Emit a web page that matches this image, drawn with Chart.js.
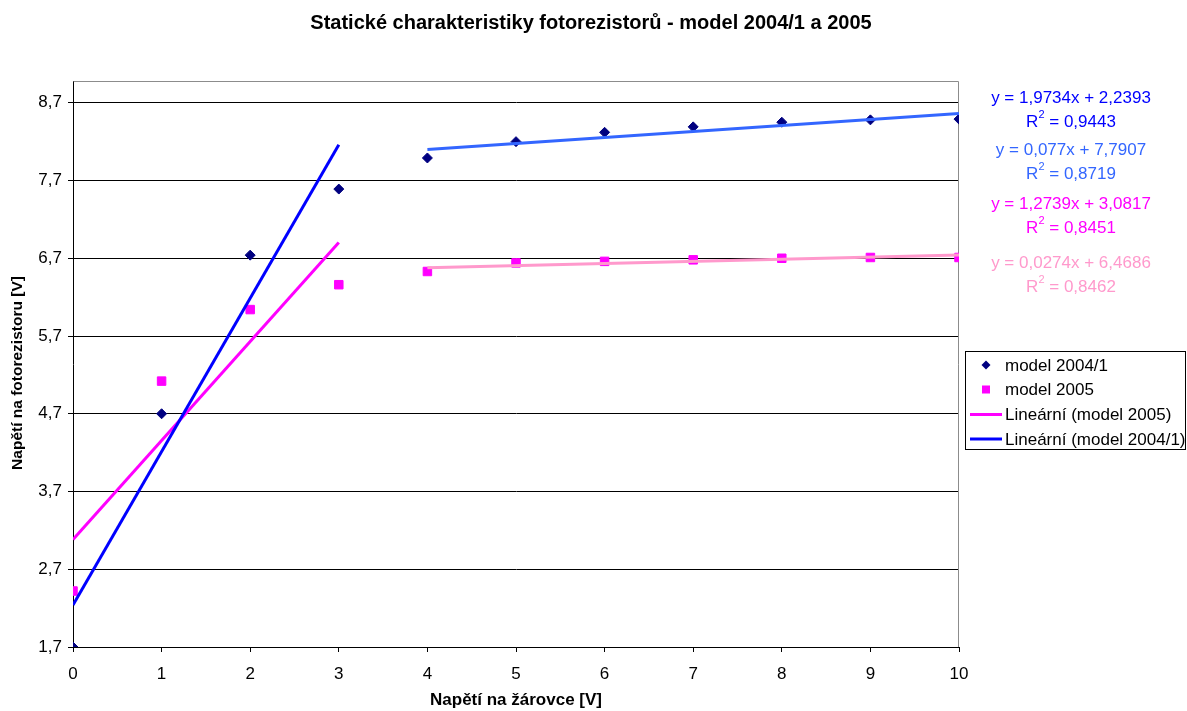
<!DOCTYPE html>
<html>
<head>
<meta charset="utf-8">
<script src="https://cdn.jsdelivr.net/npm/chart.js@4.4.1/dist/chart.umd.min.js"></script>
<style>
  html, body { margin: 0; padding: 0; background: #ffffff; }
  #wrap { width: 1187px; height: 711px; position: relative; }
</style>
</head>
<body>
<div id="wrap"><canvas id="graf" width="1187" height="711"></canvas></div>
<script>
// Napětí na žárovce [V]
const napetiZarovka = [0, 1, 2, 3, 4, 5, 6, 7, 8, 9, 10];
// Napětí na fotorezistoru [V]
const model2004 = [1.70, 4.70, 6.74, 7.59, 7.99, 8.20, 8.32, 8.39, 8.45, 8.48, 8.49];
const model2005 = [2.42, 5.12, 6.04, 6.36, 6.53, 6.64, 6.66, 6.68, 6.70, 6.71, 6.71];

// Osa Y
const yTicks = [1.7, 2.7, 3.7, 4.7, 5.7, 6.7, 7.7, 8.7];

// Lineární regrese: 2004/1 (0–3), 2004/1 (4–10), 2005 (0–3), 2005 (4–10)
const trendSlope     = [1.9734, 0.077, 1.2739, 0.0274];
const trendIntercept = [2.2393, 7.7907, 3.0817, 6.4686];
const trendR2        = [0.9443, 0.8719, 0.8451, 0.8462];
const trendFrom      = [0, 4, 0, 4];
const trendTo        = [3, 10, 3, 10];

const FONT = "'Liberation Sans', Arial, Helvetica, sans-serif";
const trendStyle = [
  { color: '#0000FF' },
  { color: '#3366FF' },
  { color: '#FF00FF' },
  { color: '#FF99CC' }
];

const fmt = (v, d) => v.toFixed(d).replace('.', ',');

const toPoints = (ys) => napetiZarovka.map((x, i) => ({ x: x, y: ys[i] }));
const trendPoints = (k) => [trendFrom[k], trendTo[k]].map(x => ({ x: x, y: trendSlope[k] * x + trendIntercept[k] }));

const trendDatasets = trendSlope.map((s, k) => ({
  label: 'trend' + k,
  data: trendPoints(k),
  showLine: true,
  borderColor: trendStyle[k].color,
  backgroundColor: trendStyle[k].color,
  borderWidth: 3,
  pointRadius: 0,
  pointHoverRadius: 0
}));

// Záhlaví grafu a popis svislé osy
const titlePlugin = {
  id: 'nadpis',
  afterDraw(chart) {
    const ctx = chart.ctx;
    ctx.save();
    ctx.fillStyle = '#000';
    ctx.font = 'bold 20px ' + FONT;
    ctx.textAlign = 'center';
    ctx.textBaseline = 'middle';
    ctx.fillText('Statické charakteristiky fotorezistorů - model 2004/1 a 2005', 591, 23);
    ctx.translate(18, 373);
    ctx.rotate(-Math.PI / 2);
    ctx.font = 'bold 15.5px ' + FONT;
    ctx.fillText('Napětí na fotorezistoru [V]', 0, 0);
    ctx.restore();
  }
};

// Rámeček kreslicí plochy
const framePlugin = {
  id: 'ramecek',
  beforeDatasetsDraw(chart) {
    const a = chart.chartArea;
    const ctx = chart.ctx;
    ctx.save();
    ctx.strokeStyle = '#8c8c8c';
    ctx.lineWidth = 1;
    ctx.beginPath();
    ctx.moveTo(Math.round(a.left) + 0.5, Math.round(a.top) + 0.5);
    ctx.lineTo(Math.round(a.right) - 0.5, Math.round(a.top) + 0.5);
    ctx.lineTo(Math.round(a.right) - 0.5, Math.round(a.bottom));
    ctx.stroke();
    ctx.restore();
  }
};

// Rovnice regresních přímek
const equationPlugin = {
  id: 'rovnice',
  afterDraw(chart) {
    const ctx = chart.ctx;
    const cx = 1071;
    const rows = [98, 150, 204, 263];
    ctx.save();
    ctx.textBaseline = 'middle';
    trendSlope.forEach((s, k) => {
      const dec = (String(s).split('.')[1] || '').length;
      const line1 = 'y = ' + fmt(s, dec) + 'x + ' + fmt(trendIntercept[k], 4);
      ctx.fillStyle = trendStyle[k].color;
      ctx.font = '17px ' + FONT;
      ctx.textAlign = 'center';
      ctx.fillText(line1, cx, rows[k]);
      // R² s horním indexem
      const y2 = rows[k] + 24;
      const partR = 'R';
      const partRest = ' = ' + fmt(trendR2[k], 4);
      ctx.font = '17px ' + FONT;
      const wR = ctx.measureText(partR).width;
      const wRest = ctx.measureText(partRest).width;
      ctx.font = '11px ' + FONT;
      const wSup = ctx.measureText('2').width;
      const total = wR + wSup + wRest;
      let x = cx - total / 2;
      ctx.textAlign = 'left';
      ctx.font = '17px ' + FONT;
      ctx.fillText(partR, x, y2);
      x += wR;
      ctx.font = '11px ' + FONT;
      ctx.fillText('2', x, y2 - 7);
      x += wSup;
      ctx.font = '17px ' + FONT;
      ctx.fillText(partRest, x, y2);
    });
    ctx.restore();
  }
};

// Legenda
const legendPlugin = {
  id: 'legenda',
  afterDraw(chart) {
    const ctx = chart.ctx;
    ctx.save();
    ctx.fillStyle = '#fff';
    ctx.fillRect(965, 351, 221, 99);
    ctx.strokeStyle = '#000';
    ctx.lineWidth = 1;
    ctx.strokeRect(965.5, 351.5, 220, 98);
    const items = [
      { text: 'model 2004/1', kind: 'diamond', color: '#000080', y: 365 },
      { text: 'model 2005', kind: 'square', color: '#FF00FF', y: 389.5 },
      { text: 'Lineární (model 2005)', kind: 'line', color: '#FF00FF', y: 414.5 },
      { text: 'Lineární (model 2004/1)', kind: 'line', color: '#0000FF', y: 439 }
    ];
    ctx.font = '17px ' + FONT;
    ctx.textBaseline = 'middle';
    ctx.textAlign = 'left';
    items.forEach(it => {
      ctx.fillStyle = it.color;
      ctx.strokeStyle = it.color;
      if (it.kind === 'diamond') {
        ctx.beginPath();
        ctx.moveTo(986, it.y - 4.5);
        ctx.lineTo(990.5, it.y);
        ctx.lineTo(986, it.y + 4.5);
        ctx.lineTo(981.5, it.y);
        ctx.closePath();
        ctx.fill();
      } else if (it.kind === 'square') {
        ctx.fillRect(982, it.y - 4, 8, 8);
      } else {
        ctx.lineWidth = 3;
        ctx.beginPath();
        ctx.moveTo(970, it.y);
        ctx.lineTo(1002, it.y);
        ctx.stroke();
      }
      ctx.fillStyle = '#000';
      ctx.fillText(it.text, 1005, it.y + 1);
    });
    ctx.restore();
  }
};

new Chart(document.getElementById('graf'), {
  type: 'scatter',
  data: {
    datasets: [
      ...trendDatasets,
      {
        label: 'model 2004/1',
        data: toPoints(model2004),
        pointStyle: 'rectRot',
        pointRadius: 5,
        pointHoverRadius: 5,
        backgroundColor: '#000080',
        borderColor: '#000080',
        borderWidth: 1
      },
      {
        label: 'model 2005',
        data: toPoints(model2005),
        pointStyle: 'rect',
        pointRadius: 6,
        pointHoverRadius: 6,
        backgroundColor: '#FF00FF',
        borderColor: '#FF00FF',
        borderWidth: 1
      }
    ]
  },
  options: {
    responsive: false,
    animation: false,
    events: [],
    layout: { padding: { top: 81, right: 228, left: 0, bottom: 0 } },
    plugins: {
      legend: { display: false },
      title: { display: false },
      tooltip: { enabled: false }
    },
    scales: {
      x: {
        type: 'linear',
        min: 0,
        max: 10,
        afterFit(scale) { scale.height = 64; },
        ticks: {
          stepSize: 1,
          color: '#000',
          font: { family: FONT, size: 17 },
          padding: 12,
          maxRotation: 0
        },
        grid: {
          drawOnChartArea: false,
          drawTicks: true,
          tickLength: 5,
          color: '#000'
        },
        border: { color: '#000', width: 1 },
        title: {
          display: true,
          text: 'Napětí na žárovce [V]',
          color: '#000',
          font: { family: FONT, size: 17, weight: 'bold' },
          padding: { top: 0, bottom: 0 }
        }
      },
      y: {
        type: 'linear',
        min: 1.7,
        max: 8.98,
        afterFit(scale) { scale.width = 73; },
        afterBuildTicks(scale) { scale.ticks = yTicks.map(v => ({ value: v })); },
        ticks: {
          color: '#000',
          font: { family: FONT, size: 17 },
          padding: 6,
          callback: (v) => fmt(v, 1)
        },
        grid: {
          color: '#000',
          lineWidth: 1,
          tickLength: 5,
          drawTicks: true
        },
        border: { color: '#000', width: 1 },
        title: { display: false }
      }
    }
  },
  plugins: [framePlugin, equationPlugin, legendPlugin, titlePlugin]
});
</script>
</body>
</html>
